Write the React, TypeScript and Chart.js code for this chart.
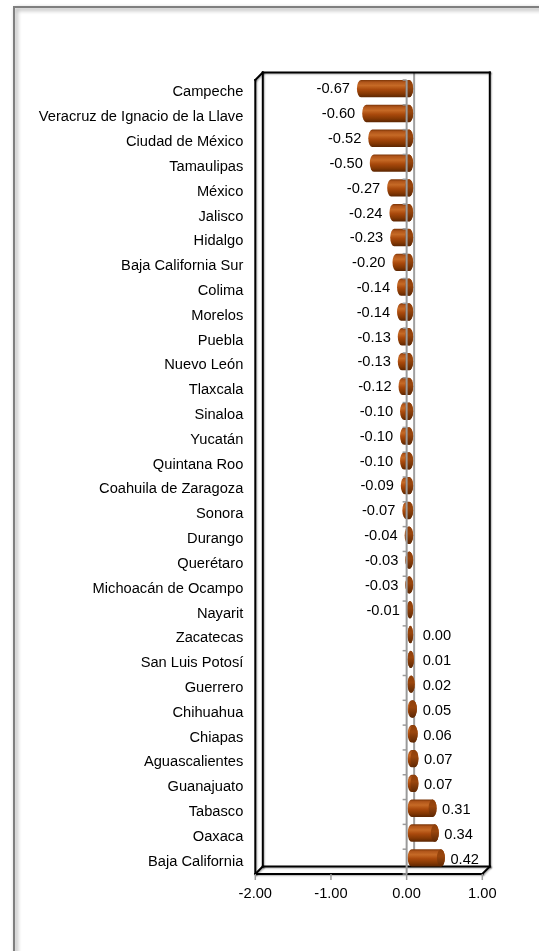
import React, { useEffect, useRef } from "react";
import { Chart, registerables } from "chart.js";

Chart.register(...registerables);

const categories = [
  "Campeche",
  "Veracruz de Ignacio de la Llave",
  "Ciudad de México",
  "Tamaulipas",
  "México",
  "Jalisco",
  "Hidalgo",
  "Baja California Sur",
  "Colima",
  "Morelos",
  "Puebla",
  "Nuevo León",
  "Tlaxcala",
  "Sinaloa",
  "Yucatán",
  "Quintana Roo",
  "Coahuila de Zaragoza",
  "Sonora",
  "Durango",
  "Querétaro",
  "Michoacán de Ocampo",
  "Nayarit",
  "Zacatecas",
  "San Luis Potosí",
  "Guerrero",
  "Chihuahua",
  "Chiapas",
  "Aguascalientes",
  "Guanajuato",
  "Tabasco",
  "Oaxaca",
  "Baja California",
];

const values = [
  -0.67, -0.6, -0.52, -0.5, -0.27, -0.24, -0.23, -0.2, -0.14, -0.14, -0.13,
  -0.13, -0.12, -0.1, -0.1, -0.1, -0.09, -0.07, -0.04, -0.03, -0.03, -0.01,
  0.0, 0.01, 0.02, 0.05, 0.06, 0.07, 0.07, 0.31, 0.34, 0.42,
];

const xMin = -2;
const xMax = 1;
const xStep = 1;

const FONT = "Arial, 'Liberation Sans', sans-serif";
const FONT_SIZE = 14.67;

export default function App() {
  const ref = useRef<HTMLCanvasElement>(null);

  useEffect(() => {
    const canvas = ref.current;
    if (!canvas) return;
    const DX = 7.5;
    const DY = -7.5;

    const framePlugin = {
      id: "frame",
      beforeDraw(chart: any) {
        const ctx = chart.ctx;
        ctx.save();
        ctx.fillStyle = "#ffffff";
        ctx.fillRect(0, 0, chart.width, chart.height);
        ctx.shadowColor = "rgba(0,0,0,0.45)";
        ctx.shadowBlur = 4;
        ctx.shadowOffsetX = 2;
        ctx.shadowOffsetY = 2;
        ctx.strokeStyle = "#7f7f7f";
        ctx.lineWidth = 2;
        ctx.strokeRect(14, 7, 700, 1100);
        ctx.restore();
      },
    };

    const line = (ctx: any, x1: number, y1: number, x2: number, y2: number) => {
      ctx.beginPath();
      ctx.moveTo(x1, y1);
      ctx.lineTo(x2, y2);
      ctx.stroke();
    };

    const cylinder = (ctx: any, xa: number, xb: number, yc: number, h: number) => {
      const ry = h / 2;
      const rx = Math.max(1.5, Math.min(4, (xb - xa) / 2));
      const top = yc - ry;
      const g = ctx.createLinearGradient(0, top, 0, top + h);
      g.addColorStop(0, "#7a3406");
      g.addColorStop(0.12, "#b0551a");
      g.addColorStop(0.32, "#c66a26");
      g.addColorStop(0.55, "#a9490c");
      g.addColorStop(0.8, "#843804");
      g.addColorStop(1, "#5c2602");
      ctx.beginPath();
      ctx.ellipse(xa + rx, yc, rx, ry, 0, Math.PI / 2, Math.PI * 1.5, false);
      ctx.lineTo(xb - rx, top);
      ctx.ellipse(xb - rx, yc, rx, ry, 0, -Math.PI / 2, Math.PI / 2, false);
      ctx.closePath();
      ctx.fillStyle = g;
      ctx.fill();
      const g2 = ctx.createLinearGradient(0, top, 0, top + h);
      g2.addColorStop(0, "#8e3f0a");
      g2.addColorStop(0.4, "#9a460d");
      g2.addColorStop(1, "#5e2804");
      ctx.beginPath();
      ctx.ellipse(xb - rx, yc, rx, ry, 0, 0, Math.PI * 2);
      ctx.fillStyle = g2;
      ctx.fill();
    };

    const boxPlugin = {
      id: "box3d",
      beforeDatasetsDraw(chart: any) {
        const ctx = chart.ctx;
        const { left: L, right: R, top: T, bottom: B } = chart.chartArea;
        const xs = chart.scales.x;
        const z = xs.getPixelForValue(0);
        ctx.save();
        ctx.strokeStyle = "#a0a0a0";
        ctx.lineWidth = 2;
        line(ctx, z + DX, T + DY, z + DX, B + DY);
        ctx.shadowColor = "rgba(0,0,0,0.3)";
        ctx.shadowBlur = 1.5;
        ctx.shadowOffsetX = 1;
        ctx.shadowOffsetY = 1;
        ctx.strokeStyle = "#000000";
        ctx.lineWidth = 2;
        ctx.lineCap = "square";
        line(ctx, L, T, L, B);
        line(ctx, L, T, L + DX, T + DY);
        line(ctx, L + DX, T + DY, L + DX, B + DY);
        line(ctx, L + DX, T + DY, R + DX, T + DY);
        line(ctx, R + DX, T + DY, R + DX, B + DY);
        line(ctx, L + DX, B + DY, R + DX, B + DY);
        line(ctx, L, B, R, B);
        line(ctx, L, B, L + DX, B + DY);
        line(ctx, R, B, R + DX, B + DY);
        ctx.restore();
      },
      afterDatasetsDraw(chart: any) {
        const ctx = chart.ctx;
        const { top: T, bottom: B } = chart.chartArea;
        const xs = chart.scales.x;
        const ys = chart.scales.y;
        const z = xs.getPixelForValue(0);
        const meta = chart.getDatasetMeta(0);
        ctx.save();
        meta.data.forEach((el: any) => {
          const xa = Math.min(el.x, el.base) + 1;
          const xb = Math.max(el.x, el.base) + 6.5;
          cylinder(ctx, xa, xb, el.y + DY / 2, el.height);
        });
        ctx.strokeStyle = "#9a9a9a";
        ctx.lineWidth = 2;
        line(ctx, z, T, z, B);
        ctx.lineWidth = 1.5;
        for (let i = 0; i <= categories.length; i++) {
          const y = ys.getPixelForValue(i - 0.5);
          line(ctx, z - 4, y, z, y);
        }
        for (let v = xMin; v <= xMax; v += xStep) {
          const x = xs.getPixelForValue(v);
          line(ctx, x, B, x, B + 6);
        }
        ctx.fillStyle = "#000000";
        ctx.font = `${FONT_SIZE}px ${FONT}`;
        ctx.textBaseline = "middle";
        meta.data.forEach((el: any, i: number) => {
          const v = values[i];
          const txt = v.toFixed(2);
          if (v < 0) {
            ctx.textAlign = "right";
            ctx.fillText(txt, el.x - 6, el.y - 3);
          } else {
            ctx.textAlign = "left";
            ctx.fillText(txt, Math.max(el.x + 12, el.base + 16), el.y - 2);
          }
        });
        ctx.restore();
      },
    };

    const chart = new Chart(canvas, {
      type: "bar",
      data: {
        labels: categories,
        datasets: [
          {
            data: values,
            backgroundColor: "rgba(0,0,0,0)",
            borderWidth: 0,
            barPercentage: 0.7,
            categoryPercentage: 1,
          },
        ],
      },
      options: {
        indexAxis: "y",
        animation: false,
        responsive: false,
        devicePixelRatio: 1,
        layout: { padding: { left: 0, top: 80, right: 56.7, bottom: 0 } },
        plugins: {
          legend: { display: false },
          tooltip: { enabled: false },
          title: { display: false },
        },
        scales: {
          x: {
            type: "linear",
            min: xMin,
            max: xMax,
            grid: { display: false, drawTicks: false },
            border: { display: false },
            ticks: {
              stepSize: xStep,
              padding: 11,
              color: "#000000",
              font: { family: FONT, size: FONT_SIZE },
              maxRotation: 0,
              callback: (v: any) => Number(v).toFixed(2),
            },
            afterFit: (s: any) => {
              s.height = 77;
            },
          },
          y: {
            grid: { display: false, drawTicks: false },
            border: { display: false },
            ticks: {
              padding: 12,
              color: "#000000",
              autoSkip: false,
              font: { family: FONT, size: FONT_SIZE },
            },
            afterFit: (s: any) => {
              s.width = 255.3;
            },
          },
        },
      },
      plugins: [framePlugin, boxPlugin],
    } as any);

    return () => chart.destroy();
  }, []);

  return (
    <div style={{ position: "absolute", left: 0, top: 0, width: 539, height: 951 }}>
      <canvas ref={ref} width={539} height={951} style={{ display: "block" }} />
    </div>
  );
}
